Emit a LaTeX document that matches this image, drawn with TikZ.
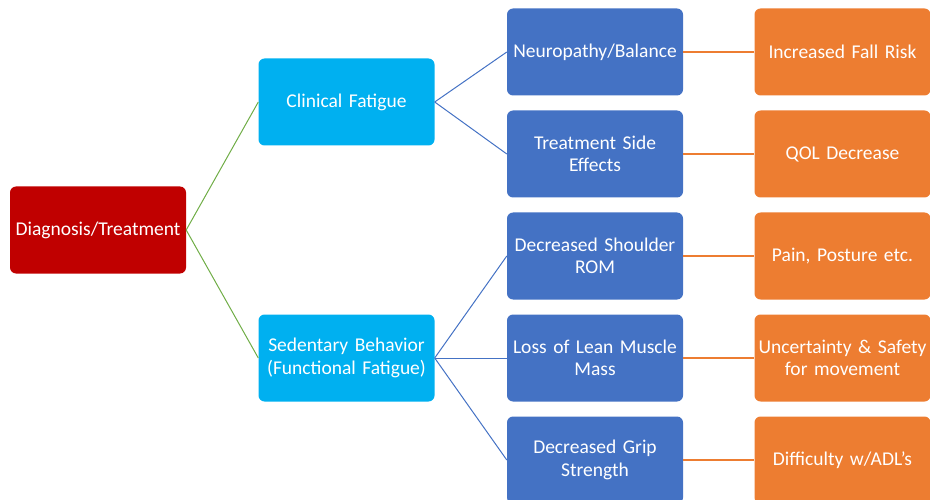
\documentclass[tikz,border=0pt]{standalone}
\usepackage{fontspec}
\setmainfont{Carlito}
\definecolor{cred}{HTML}{C00000}
\definecolor{ccyan}{HTML}{00B0F0}
\definecolor{cblue}{HTML}{4472C4}
\definecolor{corange}{HTML}{ED7D31}
\definecolor{cgreen}{HTML}{70AD47}
\begin{document}
\begin{tikzpicture}[x=1pt,y=-1pt,
  box/.style={rectangle,rounded corners=6pt,minimum width=176pt,minimum height=87pt,
    text width=172pt,align=center,text=white,inner sep=2pt,
    font=\fontsize{19.5}{22.5}\selectfont},
  rootbox/.style={box,fill=cred},
  midbox/.style={box,fill=ccyan},
  leafbox/.style={box,fill=cblue},
  endbox/.style={box,fill=corange},
  gline/.style={draw=cgreen,line width=1pt},
  bline/.style={draw=cblue,line width=1pt},
  oline/.style={draw=corange,line width=1.2pt}]
\useasboundingbox (0,0) rectangle (930,500);
\clip (0,0) rectangle (930,500);
\node[rootbox] (root) at (98,230) {Diagnosis/Treatment};
\node[midbox] (clin) at (346.5,102) {Clinical Fatigue};
\node[midbox] (sed) at (346.5,358) {Sedentary Behavior\\(Functional Fatigue)};
\node[leafbox] (b1) at (595,52) {Neuropathy/Balance};
\node[leafbox] (b2) at (595,154) {Treatment Side\\Effects};
\node[leafbox] (b3) at (595,256) {Decreased Shoulder\\ROM};
\node[leafbox] (b4) at (595,358) {Loss of Lean Muscle\\Mass};
\node[leafbox] (b5) at (595,460) {Decreased Grip\\Strength};
\node[endbox] (o1) at (842.5,52) {Increased Fall Risk};
\node[endbox] (o2) at (842.5,154) {QOL Decrease};
\node[endbox] (o3) at (842.5,256) {Pain, Posture etc.};
\node[endbox] (o4) at (842.5,358) {Uncertainty \& Safety\\for movement};
\node[endbox] (o5) at (842.5,460) {Difficulty w/ADL’s};
\draw[gline] (root.east) -- (clin.west);
\draw[gline] (root.east) -- (sed.west);
\draw[bline] (clin.east) -- (b1.west);
\draw[bline] (clin.east) -- (b2.west);
\draw[bline] (sed.east) -- (b3.west);
\draw[bline] (sed.east) -- (b4.west);
\draw[bline] (sed.east) -- (b5.west);
\foreach \i in {1,...,5} {\draw[oline] (b\i.east) -- (o\i.west);}
\end{tikzpicture}
\end{document}
